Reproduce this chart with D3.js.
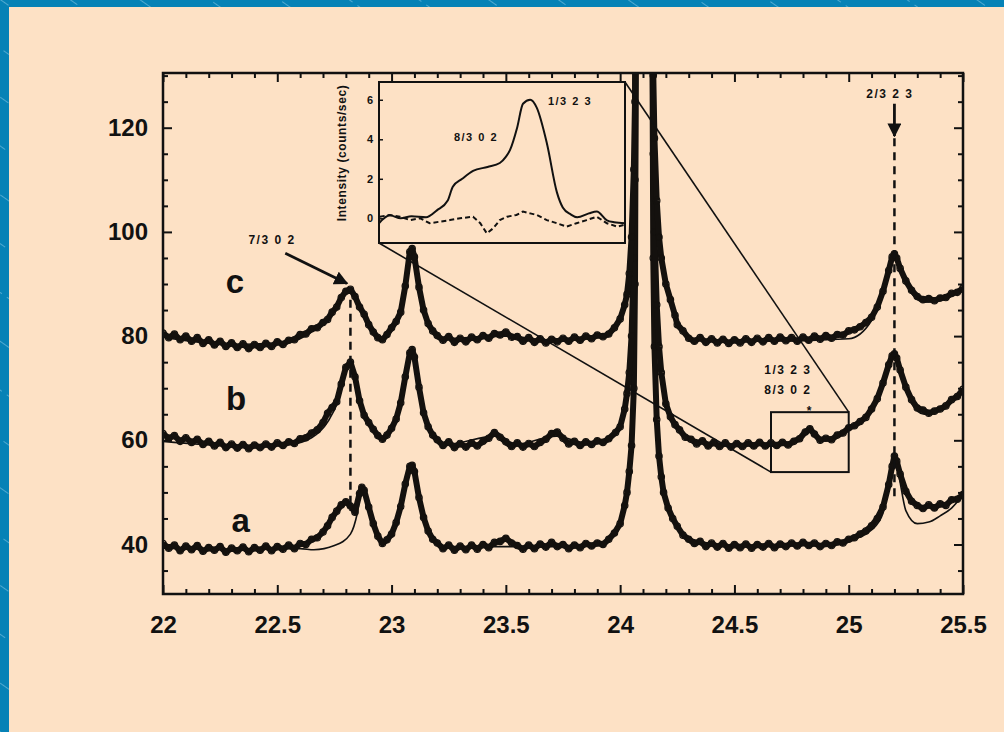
<!DOCTYPE html>
<meta charset='utf-8'>
<title>XRD scans a, b, c</title>
<style>
body {
  margin: 0;
  background-color: #fde1c5;
}
svg text {
  font-family: "Liberation Sans", Arial, sans-serif;
  font-weight: bold;
  fill: #111;
}
</style>
<svg width="1004" height="732"></svg>
<script src="https://d3js.org/d3.v7.min.js"></script>
<script>

// tick values and labels
var xMajor = [22, 22.5, 23, 23.5, 24, 24.5, 25, 25.5];
var xTickLabels = ["22", "22.5", "23", "23.5", "24", "24.5", "25", "25.5"];
var xMinor = [22.1, 22.2, 22.3, 22.4, 22.6, 22.7, 22.8, 22.9, 23.1, 23.2, 23.3, 23.4, 23.6, 23.7, 23.8, 23.9,
              24.1, 24.2, 24.3, 24.4, 24.6, 24.7, 24.8, 24.9, 25.1, 25.2, 25.3, 25.4];
var yMajor = [40, 60, 80, 100, 120];
var yMinor = [35, 45, 50, 55, 65, 70, 75, 85, 90, 95, 105, 110, 115, 125, 130];
var insetTicks = [0, 2, 4, 6];

// measured scans [2theta, intensity]; the 24.1 substrate peak runs off the top
var obsA = [[22.00,40.2],[22.025,39.3],[22.05,39.9],[22.075,38.8],[22.10,39.7],[22.125,39.0],[22.15,39.8],[22.175,38.7],[22.20,39.4],[22.225,38.9],[22.25,39.6],[22.275,38.5],[22.30,39.3],[22.325,38.8],[22.35,39.5],[22.375,38.6],[22.40,39.4],[22.425,38.9],[22.45,39.7],[22.475,38.8],[22.50,39.6],[22.525,39.1],[22.55,39.9],[22.575,39.2],[22.60,40.2],[22.625,40.0],[22.65,41.0],[22.675,41.3],[22.70,42.4],[22.72,43.6],[22.74,45.2],[22.76,46.4],[22.78,47.6],[22.80,48.2],[22.82,47.4],[22.84,46.2],[22.86,49.8],[22.87,51.0],[22.88,50.4],[22.90,47.2],[22.92,44.0],[22.94,41.6],[22.96,40.2],[22.98,40.9],[23.00,42.0],[23.02,44.2],[23.04,47.3],[23.06,51.6],[23.08,55.0],[23.09,55.2],[23.10,54.0],[23.12,49.0],[23.14,45.2],[23.16,42.6],[23.18,41.0],[23.20,40.3],[23.225,39.2],[23.25,39.9],[23.275,38.9],[23.30,39.7],[23.325,39.0],[23.35,39.9],[23.375,39.1],[23.40,40.0],[23.425,39.4],[23.45,40.4],[23.475,40.6],[23.50,41.2],[23.525,40.3],[23.55,39.8],[23.575,39.1],[23.60,39.9],[23.625,39.2],[23.65,40.1],[23.675,39.5],[23.70,40.4],[23.725,39.6],[23.75,40.0],[23.775,39.2],[23.80,39.9],[23.825,39.4],[23.85,40.2],[23.875,39.7],[23.90,40.3],[23.925,40.0],[23.95,41.0],[23.975,42.2],[24.00,44.0],[24.02,47.5],[24.03,50.0],[24.04,54.0],[24.05,59.0],[24.06,70],[24.065,90],[24.07,150],[24.14,150],[24.145,95],[24.15,78],[24.16,64],[24.17,57],[24.18,53],[24.19,50],[24.21,47],[24.23,45],[24.25,43.5],[24.275,41.8],[24.30,41.0],[24.325,40.2],[24.35,40.6],[24.375,39.6],[24.40,40.3],[24.425,39.5],[24.45,40.2],[24.475,39.3],[24.50,40.0],[24.525,39.4],[24.55,40.1],[24.575,39.3],[24.60,40.0],[24.625,39.5],[24.65,40.2],[24.675,39.4],[24.70,40.1],[24.725,39.6],[24.75,40.3],[24.775,39.7],[24.80,40.4],[24.825,39.8],[24.85,40.3],[24.875,39.6],[24.90,40.2],[24.925,39.8],[24.95,40.5],[24.975,40.3],[25.00,41.0],[25.025,41.3],[25.05,42.0],[25.075,42.6],[25.10,43.6],[25.125,45.0],[25.15,47.2],[25.175,51.5],[25.19,55.0],[25.20,57.0],[25.21,56.0],[25.225,53.5],[25.25,50.2],[25.275,48.3],[25.30,47.5],[25.325,46.9],[25.35,47.6],[25.375,47.0],[25.40,47.8],[25.425,47.5],[25.45,48.6],[25.475,48.7],[25.50,49.6]];

var obsB = [[22.00,61.3],[22.025,60.4],[22.05,60.9],[22.075,59.8],[22.10,60.5],[22.125,59.6],[22.15,60.2],[22.175,59.2],[22.20,59.8],[22.225,58.9],[22.25,59.6],[22.275,58.6],[22.30,59.3],[22.325,58.5],[22.35,59.2],[22.375,58.4],[22.40,59.1],[22.425,58.6],[22.45,59.3],[22.475,58.7],[22.50,59.5],[22.525,59.0],[22.55,59.7],[22.575,59.4],[22.60,60.3],[22.625,60.5],[22.65,61.4],[22.675,62.0],[22.70,63.4],[22.72,65.2],[22.74,66.3],[22.76,67.4],[22.78,70.8],[22.80,74.0],[22.82,75.0],[22.84,72.2],[22.86,67.6],[22.88,64.8],[22.90,63.4],[22.92,62.1],[22.94,60.9],[22.96,60.2],[22.98,61.0],[23.00,62.3],[23.02,64.1],[23.04,67.2],[23.06,72.2],[23.08,76.8],[23.09,77.4],[23.10,76.0],[23.12,70.2],[23.14,65.3],[23.16,62.6],[23.18,61.0],[23.20,60.1],[23.225,59.0],[23.25,59.7],[23.275,58.6],[23.30,59.4],[23.325,58.7],[23.35,59.5],[23.375,58.9],[23.40,59.8],[23.425,60.4],[23.45,61.5],[23.475,60.6],[23.50,59.7],[23.525,58.8],[23.55,59.5],[23.575,58.7],[23.60,59.4],[23.625,58.8],[23.65,59.6],[23.675,60.2],[23.70,61.3],[23.725,61.6],[23.75,60.4],[23.775,59.3],[23.80,59.8],[23.825,59.0],[23.85,59.7],[23.875,59.2],[23.90,59.9],[23.925,59.6],[23.95,60.3],[23.98,61.5],[24.00,62.6],[24.02,66.0],[24.03,69.0],[24.04,73.0],[24.05,80.0],[24.06,95],[24.065,110],[24.07,160],[24.14,160],[24.145,115],[24.15,100],[24.16,86],[24.17,78],[24.18,73],[24.20,67],[24.22,64.5],[24.24,63.0],[24.26,62.0],[24.285,60.6],[24.31,60.2],[24.335,59.3],[24.36,59.9],[24.385,58.9],[24.41,59.6],[24.435,58.8],[24.46,59.5],[24.485,58.7],[24.51,59.4],[24.535,58.8],[24.56,59.5],[24.585,58.9],[24.61,59.6],[24.635,58.9],[24.66,59.5],[24.685,59.0],[24.71,59.6],[24.735,59.1],[24.76,59.8],[24.785,60.3],[24.81,61.6],[24.83,62.2],[24.85,61.2],[24.875,60.0],[24.90,60.4],[24.925,60.1],[24.95,61.0],[24.975,61.4],[25.00,62.4],[25.025,62.8],[25.05,63.6],[25.075,64.4],[25.10,66.0],[25.125,68.0],[25.15,71.0],[25.175,74.5],[25.19,76.2],[25.20,76.6],[25.21,75.8],[25.225,73.5],[25.25,70.2],[25.275,67.8],[25.30,66.2],[25.325,65.8],[25.35,65.2],[25.375,65.6],[25.40,66.0],[25.425,66.6],[25.45,67.8],[25.475,68.4],[25.50,69.8]];

var obsC = [[22.00,80.6],[22.025,79.7],[22.05,80.4],[22.075,79.3],[22.10,80.0],[22.125,79.0],[22.15,79.7],[22.175,78.6],[22.20,79.3],[22.225,78.3],[22.25,79.0],[22.275,78.0],[22.30,78.7],[22.325,77.8],[22.35,78.5],[22.375,77.6],[22.40,78.4],[22.425,77.8],[22.45,78.6],[22.475,78.0],[22.50,78.9],[22.525,78.4],[22.55,79.2],[22.575,79.3],[22.60,80.3],[22.625,80.4],[22.65,81.4],[22.675,81.6],[22.70,82.6],[22.72,83.2],[22.74,84.6],[22.76,85.6],[22.78,87.4],[22.80,88.6],[22.82,89.0],[22.84,87.6],[22.86,85.6],[22.88,84.2],[22.90,82.2],[22.92,80.8],[22.94,79.7],[22.96,79.3],[22.98,80.3],[23.00,81.6],[23.02,82.8],[23.04,84.6],[23.06,89.6],[23.08,96.2],[23.09,96.8],[23.10,95.2],[23.12,89.4],[23.14,85.0],[23.16,82.4],[23.18,81.0],[23.20,80.1],[23.225,79.2],[23.25,79.9],[23.275,78.8],[23.30,79.6],[23.325,78.9],[23.35,79.8],[23.375,79.3],[23.40,80.1],[23.425,79.6],[23.45,80.5],[23.475,80.2],[23.50,80.8],[23.525,79.8],[23.55,79.9],[23.575,79.0],[23.60,79.7],[23.625,78.8],[23.65,79.5],[23.675,78.7],[23.70,79.4],[23.725,78.9],[23.75,79.6],[23.775,79.0],[23.80,79.8],[23.825,79.2],[23.85,80.0],[23.875,79.5],[23.90,80.2],[23.925,79.9],[23.95,80.4],[23.975,81.6],[24.00,83.3],[24.02,86.0],[24.03,88.0],[24.04,92.0],[24.05,99.0],[24.06,112],[24.065,125],[24.07,170],[24.14,170],[24.145,130],[24.15,118],[24.16,106],[24.17,99],[24.18,95],[24.20,90],[24.22,87],[24.24,84],[24.25,82.2],[24.275,81.0],[24.30,79.6],[24.325,79.0],[24.35,79.7],[24.375,78.8],[24.40,79.5],[24.425,78.7],[24.45,79.4],[24.475,78.6],[24.50,79.3],[24.525,78.7],[24.55,79.5],[24.575,78.8],[24.60,79.6],[24.625,78.9],[24.65,79.7],[24.675,79.0],[24.70,79.8],[24.725,79.1],[24.75,79.7],[24.775,79.0],[24.80,79.8],[24.825,79.2],[24.85,80.0],[24.875,79.4],[24.90,80.1],[24.925,79.6],[24.95,80.3],[24.975,80.2],[25.00,81.0],[25.025,81.2],[25.05,81.8],[25.075,82.6],[25.10,83.6],[25.125,85.6],[25.15,88.6],[25.175,92.6],[25.19,95.2],[25.20,95.8],[25.21,95.0],[25.225,93.0],[25.25,90.6],[25.275,88.8],[25.30,87.6],[25.325,87.0],[25.35,87.2],[25.375,86.8],[25.40,87.3],[25.425,87.4],[25.45,88.2],[25.475,88.4],[25.50,89.2]];

// fitted profiles (thin lines)
var fitA = [[22.0,39.3],[22.3,39.1],[22.6,39.2],[22.66,39.0],[22.75,39.8],[22.82,42.0],[22.85,46.0],[22.87,51.0],[22.9,47.0],[22.93,42.5],[22.96,40.8],[23.0,41.8],[23.04,46.5],[23.08,54.5],[23.1,53.5],[23.13,46.5],[23.17,41.5],[23.25,39.6],[23.5,39.6],[23.8,39.6],[23.95,40.8],[24.0,43.5],[24.03,49.5],[24.05,58],[24.06,68],[24.07,150],[24.14,150],[24.15,76],[24.17,57],[24.19,50],[24.23,45],[24.3,41.2],[24.5,39.8],[24.8,39.8],[25.0,40.8],[25.1,42.8],[25.15,46.0],[25.18,52.5],[25.2,56.5],[25.22,53.0],[25.25,46.5],[25.3,44.0],[25.35,44.3],[25.4,45.5],[25.45,47.0],[25.5,49.5]];
var fitB = [[22.0,59.8],[22.3,59.0],[22.55,59.2],[22.65,60.5],[22.72,63.5],[22.77,68],[22.8,73],[22.82,74.5],[22.84,71.5],[22.87,66],[22.9,63],[22.95,60.6],[23.0,62],[23.04,66.5],[23.07,74],[23.09,77],[23.11,74],[23.14,65.5],[23.18,61],[23.25,59.3],[23.45,60.8],[23.55,59.3],[23.72,60.8],[23.85,59.5],[23.95,60.2],[24.0,62.5],[24.03,68.5],[24.05,79],[24.06,93],[24.07,160],[24.14,160],[24.15,98],[24.17,77],[24.2,67],[24.22,64.5],[24.3,60.5],[24.5,59.2],[24.75,59.3],[24.83,61.5],[24.9,60],[25.0,62],[25.1,65.5],[25.15,71],[25.2,76.5],[25.23,73],[25.27,67.5],[25.33,65],[25.4,65.8],[25.5,69.5]];
var fitC = [[22.0,79.8],[22.3,78.4],[22.55,78.8],[22.65,80.8],[22.72,83.5],[22.78,87],[22.82,88.8],[22.86,85.5],[22.9,82],[22.96,79.6],[23.02,82.5],[23.06,89.5],[23.09,96.8],[23.12,90],[23.16,82.5],[23.22,79.5],[23.5,80],[23.7,79.2],[23.95,80.2],[24.0,83.2],[24.03,87.5],[24.05,98],[24.06,110],[24.07,170],[24.14,170],[24.15,116],[24.17,98],[24.2,90],[24.22,87],[24.25,82],[24.32,79.5],[24.6,79],[25.0,79.5],[25.1,83],[25.15,88.5],[25.2,96],[25.23,93],[25.27,88.5],[25.33,86.5],[25.4,86.8],[25.5,89]];

// inset: 1/3 2 3 + 8/3 0 2 peak (solid) and background scan (dashed), counts/sec
var insetPeak = [[24.66,-0.25],[24.675,0.15],[24.69,0.0],[24.705,0.1],[24.725,0.05],[24.74,0.4],[24.755,0.9],[24.762,1.6],[24.775,2.0],[24.79,2.4],[24.81,2.6],[24.827,2.8],[24.835,3.1],[24.841,3.45],[24.851,4.6],[24.859,5.8],[24.869,6.0],[24.878,5.6],[24.892,3.8],[24.906,1.3],[24.914,0.55],[24.925,0.2],[24.934,0.05],[24.95,0.25],[24.961,0.35],[24.975,-0.1],[24.985,-0.2],[25.0,-0.25]];
var insetBase = [[24.661,0.08],[24.675,0.17],[24.689,0.08],[24.703,-0.09],[24.717,0.0],[24.730,-0.25],[24.744,-0.17],[24.758,-0.09],[24.772,0.0],[24.790,0.08],[24.800,-0.25],[24.809,-0.76],[24.818,-0.5],[24.827,-0.09],[24.837,0.08],[24.850,0.17],[24.859,0.34],[24.869,0.25],[24.878,0.17],[24.892,-0.09],[24.906,-0.25],[24.919,-0.42],[24.933,-0.25],[24.947,-0.09],[24.961,0.08],[24.975,-0.25],[24.989,-0.42],[24.998,-0.34]];

var svg = d3.select("svg");
var W = 1004, H = 732;

// striped blue border at top and left
var defs = svg.append("defs");
var pat = defs.append("pattern")
    .attr("id", "stripes")
    .attr("patternUnits", "userSpaceOnUse")
    .attr("width", 40).attr("height", 40)
    .attr("patternTransform", "rotate(-55)");
pat.append("rect").attr("width", 40).attr("height", 40).attr("fill", "#0682b6");
pat.append("line").attr("x1", 0).attr("y1", 0).attr("x2", 0).attr("y2", 40)
    .attr("stroke", "#7fc3e2").attr("stroke-width", 1.2).attr("stroke-dasharray", "10,6");

svg.append("rect").attr("width", W).attr("height", H).attr("fill", "url(#stripes)");
svg.append("rect").attr("x", 9).attr("y", 7).attr("width", W - 9).attr("height", H - 7).attr("fill", "#fde1c5");

// plot frame in pixels (window.top is reserved, hence the prefixes)
var pLeft = 163, pRight = 963, pTop = 73, pBottom = 594;

var x = d3.scaleLinear().domain([22, 25.5]).range([pLeft, pRight]);
var y = d3.scaleLinear().domain([30.5, 130.5]).range([pBottom, pTop]);

defs.append("clipPath").attr("id", "plotclip")
  .append("rect").attr("x", pLeft).attr("y", pTop).attr("width", pRight - pLeft).attr("height", pBottom - pTop);

// axes, ticks pointing inward on all sides
function styleAxis(g) {
  g.select(".domain").remove();
  g.selectAll(".tick line").attr("stroke", "#111").attr("stroke-width", 2);
  g.selectAll(".tick text").style("font-size", "24px").attr("fill", "#111");
}

svg.append("g").attr("transform", "translate(0," + pBottom + ")")
    .call(d3.axisBottom(x).tickValues(xMajor).tickSize(-9).tickPadding(22)
      .tickFormat(function(d, i) { return xTickLabels[i]; }))
    .call(styleAxis);
svg.append("g").attr("transform", "translate(0," + pBottom + ")")
    .call(d3.axisBottom(x).tickValues(xMinor).tickSize(-5).tickFormat(""))
    .call(styleAxis);
svg.append("g").attr("transform", "translate(0," + pTop + ")")
    .call(d3.axisTop(x).tickValues(xMajor).tickSize(-9).tickFormat(""))
    .call(styleAxis);
svg.append("g").attr("transform", "translate(0," + pTop + ")")
    .call(d3.axisTop(x).tickValues(xMinor).tickSize(-5).tickFormat(""))
    .call(styleAxis);

svg.append("g").attr("transform", "translate(" + pLeft + ",0)")
    .call(d3.axisLeft(y).tickValues(yMajor).tickSize(-9).tickPadding(15))
    .call(styleAxis);
svg.append("g").attr("transform", "translate(" + pLeft + ",0)")
    .call(d3.axisLeft(y).tickValues(yMinor).tickSize(-5).tickFormat(""))
    .call(styleAxis);
svg.append("g").attr("transform", "translate(" + pRight + ",0)")
    .call(d3.axisRight(y).tickValues(yMajor).tickSize(-9).tickFormat(""))
    .call(styleAxis);
svg.append("g").attr("transform", "translate(" + pRight + ",0)")
    .call(d3.axisRight(y).tickValues(yMinor).tickSize(-5).tickFormat(""))
    .call(styleAxis);

// scans
var plot = svg.append("g").attr("clip-path", "url(#plotclip)");

var line = d3.line()
    .x(function(d) { return x(d[0]); })
    .y(function(d) { return y(d[1]); });
var smooth = d3.line()
    .curve(d3.curveMonotoneX)
    .x(function(d) { return x(d[0]); })
    .y(function(d) { return y(d[1]); });

[fitA, fitB, fitC].forEach(function(f) {
  plot.append("path").attr("d", smooth(f))
      .attr("fill", "none").attr("stroke", "#111").attr("stroke-width", 1.6);
});

[obsA, obsB, obsC].forEach(function(s) {
  plot.append("path").attr("d", line(s))
      .attr("fill", "none").attr("stroke", "#14110e").attr("stroke-width", 6)
      .attr("stroke-linejoin", "round");
  // open markers give the scan its grainy edge
  plot.append("g").selectAll("circle")
      .data(s)
    .enter().append("circle")
      .attr("cx", function(d) { return x(d[0]); })
      .attr("cy", function(d) { return y(d[1]); })
      .attr("r", 3.2)
      .attr("fill", "none").attr("stroke", "#14110e").attr("stroke-width", 1.2);
});

// frame
svg.append("rect")
    .attr("x", pLeft).attr("y", pTop).attr("width", pRight - pLeft).attr("height", pBottom - pTop)
    .attr("fill", "none").attr("stroke", "#111").attr("stroke-width", 2.5);

// dashed guide lines at the superlattice peaks
plot.append("line")
    .attr("x1", x(22.82)).attr("x2", x(22.82)).attr("y1", y(87)).attr("y2", y(46.5))
    .attr("stroke", "#111").attr("stroke-width", 2.5).attr("stroke-dasharray", "8,6");
plot.append("line")
    .attr("x1", x(25.2)).attr("x2", x(25.2)).attr("y1", y(118)).attr("y2", y(48.5))
    .attr("stroke", "#111").attr("stroke-width", 2.5).attr("stroke-dasharray", "8,6");

// arrows
defs.append("marker")
    .attr("id", "arrow").attr("viewBox", "0 0 10 10")
    .attr("refX", 9).attr("refY", 5)
    .attr("markerWidth", 5).attr("markerHeight", 5)
    .attr("markerUnits", "strokeWidth")
    .attr("orient", "auto")
  .append("path").attr("d", "M0,0L10,5L0,10Z").attr("fill", "#111");

svg.append("line")
    .attr("x1", x(22.535)).attr("y1", y(95.9)).attr("x2", x(22.805)).attr("y2", y(90.1))
    .attr("stroke", "#111").attr("stroke-width", 2.8).attr("marker-end", "url(#arrow)");
svg.append("line")
    .attr("x1", x(25.2)).attr("y1", y(124.6)).attr("x2", x(25.2)).attr("y2", y(118.4))
    .attr("stroke", "#111").attr("stroke-width", 2.8).attr("marker-end", "url(#arrow)");

// curve labels
[["a", 22.34, 42.4], ["b", 22.32, 65.8], ["c", 22.315, 88.3]].forEach(function(l) {
  svg.append("text").attr("x", x(l[1])).attr("y", y(l[2]))
      .attr("text-anchor", "middle").style("font-size", "33px").text(l[0]);
});

// peak index labels
function note(t, xv, yv) {
  svg.append("text").attr("x", x(xv)).attr("y", y(yv))
      .attr("text-anchor", "middle").style("font-size", "12px")
      .style("letter-spacing", "1.5px").text(t);
}
note("7/3 0 2", 22.477, 97.7);
note("2/3 2 3", 25.18, 125.7);
note("1/3 2 3", 24.734, 72.7);
note("8/3 0 2", 24.734, 68.9);
note("*", 24.83, 64.9);

// zoom box in the main plot
var boxX = [24.66, 25.0], boxY = [53.9, 65.4];
svg.append("rect")
    .attr("x", x(boxX[0])).attr("y", y(boxY[1]))
    .attr("width", x(boxX[1]) - x(boxX[0])).attr("height", y(boxY[0]) - y(boxY[1]))
    .attr("fill", "none").attr("stroke", "#111").attr("stroke-width", 2);

// inset
var ix0 = 379, ix1 = 625, iy0 = 82, iy1 = 243;
var ix = d3.scaleLinear().domain(boxX).range([ix0, ix1]);
var iy = d3.scaleLinear().domain([-1.25, 6.9]).range([iy1, iy0]);

// connecting lines from the inset to the zoom box
svg.append("line")
    .attr("x1", ix0).attr("y1", iy1).attr("x2", x(boxX[0])).attr("y2", y(boxY[0]))
    .attr("stroke", "#111").attr("stroke-width", 1.6);
svg.append("line")
    .attr("x1", ix1).attr("y1", iy0).attr("x2", x(boxX[1])).attr("y2", y(boxY[1]))
    .attr("stroke", "#111").attr("stroke-width", 1.6);

var inset = svg.append("g");
inset.append("rect")
    .attr("x", ix0).attr("y", iy0).attr("width", ix1 - ix0).attr("height", iy1 - iy0)
    .attr("fill", "#fde1c5").attr("stroke", "#111").attr("stroke-width", 2);

var ig = inset.append("g").attr("transform", "translate(" + ix0 + ",0)")
    .call(d3.axisLeft(iy).tickValues(insetTicks).tickSize(-4).tickPadding(6));
ig.select(".domain").remove();
ig.selectAll(".tick line").attr("stroke", "#111").attr("stroke-width", 1.5);
ig.selectAll(".tick text").style("font-size", "11px").attr("fill", "#111");

inset.append("text")
    .attr("transform", "translate(346,153) rotate(-90)")
    .attr("text-anchor", "middle").style("font-size", "12px").style("letter-spacing", "0.6px")
    .text("Intensity (counts/sec)");

var iline = d3.line()
    .x(function(d) { return ix(d[0]); })
    .y(function(d) { return iy(d[1]); });
inset.append("path").attr("d", iline.curve(d3.curveMonotoneX)(insetPeak))
    .attr("fill", "none").attr("stroke", "#111").attr("stroke-width", 2);
inset.append("path").attr("d", iline.curve(d3.curveLinear)(insetBase))
    .attr("fill", "none").attr("stroke", "#111").attr("stroke-width", 2)
    .attr("stroke-dasharray", "5,3");

inset.append("text").attr("x", ix(24.794)).attr("y", iy(3.9))
    .attr("text-anchor", "middle").style("font-size", "11px").style("letter-spacing", "1.5px")
    .text("8/3 0 2");
inset.append("text").attr("x", ix(24.924)).attr("y", iy(5.75))
    .attr("text-anchor", "middle").style("font-size", "11px").style("letter-spacing", "1.5px")
    .text("1/3 2 3");

</script>
